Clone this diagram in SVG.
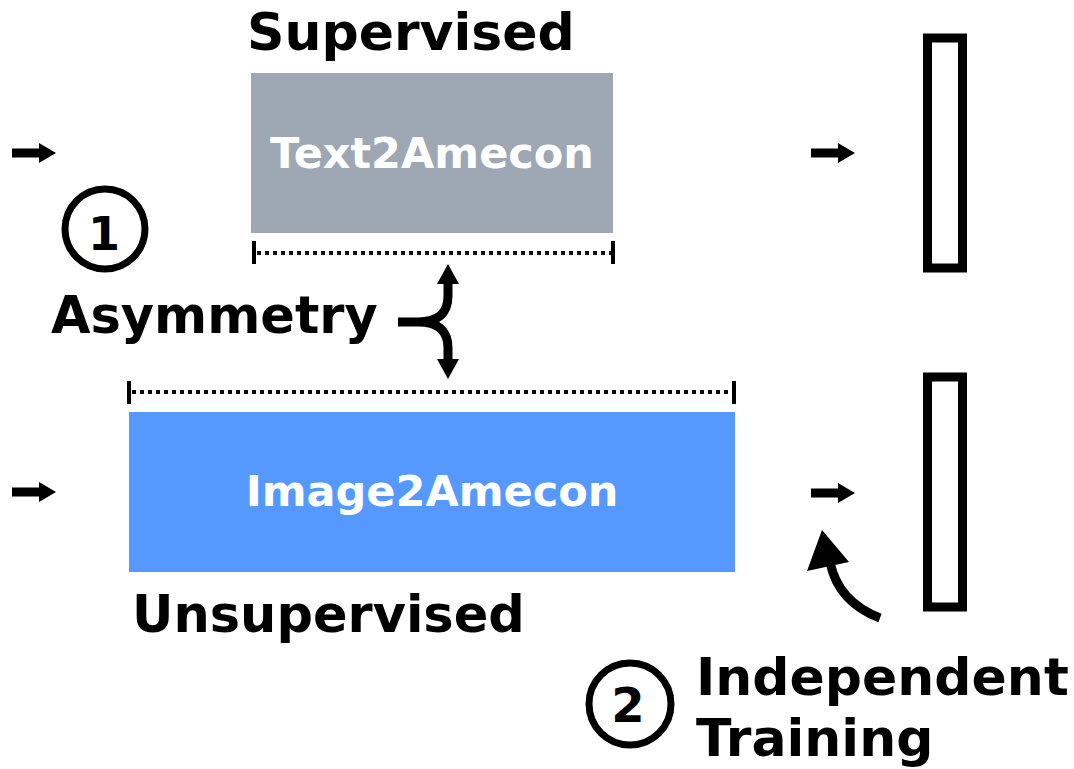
<svg xmlns="http://www.w3.org/2000/svg" width="1074" height="769" viewBox="0 0 1074 769">
<defs>
<style>
.lbl{font-family:"DejaVu Sans","Liberation Sans",sans-serif;font-weight:bold;fill:#000}
.box{font-family:"DejaVu Sans","Liberation Sans",sans-serif;font-weight:bold;fill:#fff;text-anchor:middle}
.dot{stroke:#000;stroke-width:4;stroke-dasharray:4 4;fill:none}
.tick{stroke:#000;stroke-width:4;fill:none}
.ring{fill:none;stroke:#000;stroke-width:7}
.bar{fill:none;stroke:#000;stroke-width:9}
.ln{fill:none;stroke:#000;stroke-width:9}
</style>
<g id="arr"><rect x="0" y="-4.5" width="28" height="9" fill="#000"/><polygon points="27,-10 44,0 27,10" fill="#000"/></g>
</defs>
<rect width="1074" height="769" fill="#fff"/>

<g id="supervised-label"><text class="lbl" x="247" y="50" font-size="52">Supervised</text></g>
<g id="text2amecon"><rect x="251" y="73" width="362" height="160" fill="#9ea8b4"/><text class="box" x="432" y="168" font-size="43">Text2Amecon</text></g>
<g id="image2amecon"><rect x="129" y="412" width="606" height="160" fill="#5599ff"/><text class="box" x="432" y="506" font-size="43">Image2Amecon</text></g>
<g id="unsupervised-label"><text class="lbl" x="132" y="632" font-size="51">Unsupervised</text></g>
<g id="asymmetry"><text class="lbl" x="51" y="333" font-size="51">Asymmetry</text></g>
<g id="circle1"><circle class="ring" cx="105" cy="229" r="40"/><text class="lbl" x="104" y="250" font-size="46" text-anchor="middle">1</text></g>
<g id="circle2"><circle class="ring" cx="630" cy="704" r="41"/><text class="lbl" x="628" y="722" font-size="48" text-anchor="middle">2</text></g>
<g id="independent"><text class="lbl" x="696" y="695" font-size="52">Independent</text><text class="lbl" x="696" y="756" font-size="52">Training</text></g>
<g id="out-top"><rect class="bar" x="927.5" y="38" width="35" height="230"/></g>
<g id="out-bottom"><rect class="bar" x="927.5" y="377" width="35" height="230"/></g>

<g id="connectors">
<use href="#arr" x="12" y="153"/>
<use href="#arr" x="12" y="492"/>
<use href="#arr" x="811" y="153"/>
<use href="#arr" x="811" y="493"/>
<line class="dot" x1="257" y1="253" x2="611" y2="253"/>
<line class="tick" x1="254" y1="241" x2="254" y2="264"/>
<line class="tick" x1="613" y1="241" x2="613" y2="264"/>
<line class="dot" x1="132" y1="392" x2="732" y2="392"/>
<line class="tick" x1="129" y1="381" x2="129" y2="404"/>
<line class="tick" x1="734" y1="381" x2="734" y2="404"/>
<path class="ln" d="M398 322 L418 322 Q448 322 448 296 L448 280 M418 322 Q448 322 448 348 L448 362" stroke-width="8"/>
<polygon points="448,264 437,284 459,284" fill="#000"/>
<polygon points="448,379 437,359 459,359" fill="#000"/>
<path class="ln" d="M880 618 Q838 602 830 562" stroke-width="10"/>
<polygon points="822,530 807,571 849,562" fill="#000"/>
</g>
</svg>
